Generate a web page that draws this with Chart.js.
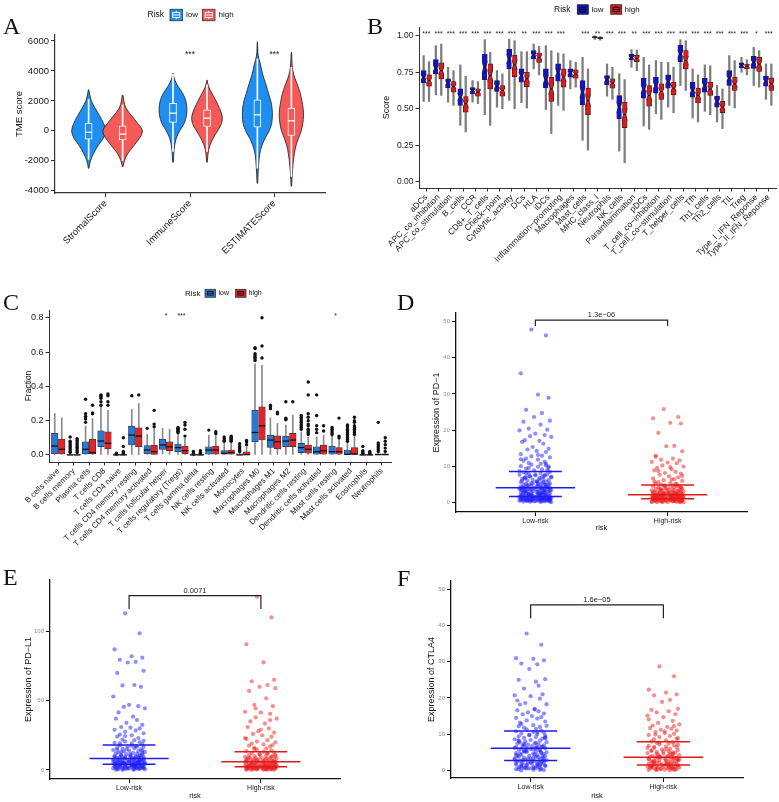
<!DOCTYPE html>
<html>
<head>
<meta charset="utf-8">
<title>TME score, immune function, immune cells and checkpoints by risk group</title>
<script src="https://cdn.jsdelivr.net/npm/chart.js@4/dist/chart.umd.min.js"></script>
<style>
  body { margin: 0; background: #fff; }
  #page { position: relative; width: 779px; height: 802px; overflow: hidden; background: #fff; }
  #page canvas { position: absolute; }
  .tag { position: absolute; font-family: "Liberation Serif", "Times New Roman", serif; font-size: 24px; line-height: 1; color: #111; }
</style>
</head>
<body>
<div id="page">
  <canvas id="cA" width="390" height="270" style="left:0;top:0"></canvas>
  <canvas id="cB" width="401" height="270" style="left:378px;top:0"></canvas>
  <canvas id="cC" width="395" height="280" style="left:0;top:270px"></canvas>
  <canvas id="cD" width="389" height="262" style="left:390px;top:270px"></canvas>
  <canvas id="cE" width="390" height="260" style="left:0;top:540px"></canvas>
  <canvas id="cF" width="389" height="260" style="left:390px;top:540px"></canvas>
  <div class="tag" style="left:3px;top:14px">A</div>
  <div class="tag" style="left:367px;top:14px">B</div>
  <div class="tag" style="left:3px;top:290px">C</div>
  <div class="tag" style="left:397px;top:290px">D</div>
  <div class="tag" style="left:3px;top:565px">E</div>
  <div class="tag" style="left:397px;top:566px">F</div>
</div>
<script>
// ---------- data ----------
var riskLevels = ['low', 'high'];
var riskGroups = ['Low-risk', 'High-risk'];

// A: TME scores (violin + box)
var aCats = ['StromalScore', 'ImmuneScore', 'ESTIMATEScore'];
var aTicks = [-4000, -2000, 0, 2000, 4000, 6000];
var aGrid = [-4000, -3500, -3000, -2500, -2000, -1500, -1000, -500, 0, 500, 1000, 1500, 2000, 2500, 3000, 3500, 4000, 4500, 5000, 5500, 6000];
var aDensLow = [
  [0, 0, 0, 0.3, 1.5, 5, 9, 15, 17.5, 15, 11, 6.5, 2.5, 0.8, 0, 0, 0, 0, 0, 0, 0],
  [0, 0, 0, 0, 0.4, 0.8, 1.5, 3, 6.5, 11.5, 13.5, 14, 13, 10, 4.5, 1, 0, 0, 0, 0, 0],
  [0, 0.3, 0.6, 1, 1.5, 2.3, 4.3, 7.5, 12, 14.5, 15, 14.8, 13.5, 11, 9, 6.5, 4.3, 3, 0.6, 0.4, 0]
];
var aDensHigh = [
  [0, 0, 0, 0, 1.5, 5, 11, 17, 21, 15, 9, 3, 1, 0.5, 0, 0, 0, 0, 0, 0, 0],
  [0, 0, 0, 0, 0.4, 1, 2.5, 6, 10.5, 15, 15.5, 12.5, 9, 5, 1, 0, 0, 0, 0, 0, 0],
  [0, 0.4, 0.8, 1.3, 2, 3, 4.4, 7, 10, 11.5, 12.2, 11.8, 10.5, 9, 6.5, 3.5, 1.3, 0.6, 0.4, 0, 0]
];
var aRangeLow = [[-2500, 2750], [-2100, 3850], [-3500, 5950]];
var aRangeHigh = [[-2400, 2400], [-2100, 3400], [-3700, 5250]];
// [lower whisker, q1, median, q3, upper whisker]
var aBoxLow = [[-1900, -555, -100, 511, 2100], [-1378, 555, 1178, 1844, 3777], [-2490, 244, 1067, 2067, 4800]];
var aBoxHigh = [[-2000, -600, -222, 333, 1733], [-1377, 289, 844, 1400, 3066], [-3044, -311, 667, 1511, 4244]];
var aSig = ['', '***', '***'];

// B: immune function scores
var bCats = ['aDCs', 'APC_co_inhibition', 'APC_co_stimulation', 'B_cells', 'CCR', 'CD8+_T_cells', 'Check\u2212point',
  'Cytolytic_activity', 'DCs', 'HLA', 'iDCs', 'Inflammation\u2212promoting', 'Macrophages', 'Mast_cells', 'MHC_class_I',
  'Neutrophils', 'NK_cells', 'Parainflammation', 'pDCs', 'T_cell_co\u2212inhibition', 'T_cell_co\u2212stimulation',
  'T_helper_cells', 'Tfh', 'Th1_cells', 'Th2_cells', 'TIL', 'Treg', 'Type_I_IFN_Reponse', 'Type_II_IFN_Reponse'];
var bTicks = [0, 0.25, 0.5, 0.75, 1];
var bLow = [
  [0.55, 0.677, 0.716, 0.761, 0.864], [0.595, 0.739, 0.777, 0.836, 0.932], [0.545, 0.643, 0.677, 0.705, 0.784],
  [0.386, 0.523, 0.58, 0.636, 0.80], [0.545, 0.602, 0.625, 0.645, 0.693], [0.459, 0.70, 0.784, 0.875, 0.973],
  [0.511, 0.618, 0.655, 0.693, 0.761], [0.557, 0.773, 0.841, 0.909, 0.977], [0.541, 0.682, 0.727, 0.773, 0.891],
  [0.773, 0.841, 0.868, 0.898, 0.943], [0.495, 0.643, 0.70, 0.773, 0.932], [0.523, 0.689, 0.75, 0.807, 0.882],
  [0.636, 0.716, 0.745, 0.773, 0.83], [0.284, 0.527, 0.614, 0.693, 0.852], [0.975, 0.985, 0.99, 0.995, 1.0],
  [0.586, 0.664, 0.698, 0.727, 0.807], [0.21, 0.43, 0.51, 0.59, 0.74], [0.784, 0.834, 0.852, 0.873, 0.905],
  [0.382, 0.573, 0.636, 0.709, 0.852], [0.466, 0.607, 0.659, 0.716, 0.83], [0.511, 0.641, 0.686, 0.732, 0.818],
  [0.659, 0.823, 0.875, 0.936, 0.973], [0.436, 0.58, 0.625, 0.682, 0.773], [0.482, 0.614, 0.659, 0.709, 0.80],
  [0.409, 0.511, 0.55, 0.586, 0.659], [0.523, 0.659, 0.709, 0.761, 0.864], [0.75, 0.782, 0.798, 0.814, 0.852],
  [0.659, 0.777, 0.818, 0.859, 0.92], [0.564, 0.655, 0.689, 0.723, 0.807]
];
var bHigh = [
  [0.55, 0.655, 0.693, 0.732, 0.823], [0.591, 0.705, 0.761, 0.814, 0.943], [0.523, 0.614, 0.652, 0.686, 0.761],
  [0.341, 0.477, 0.534, 0.584, 0.723], [0.534, 0.586, 0.614, 0.636, 0.686], [0.386, 0.636, 0.727, 0.807, 0.886],
  [0.50, 0.586, 0.625, 0.659, 0.739], [0.50, 0.72, 0.80, 0.868, 0.966], [0.505, 0.652, 0.705, 0.75, 0.891],
  [0.732, 0.818, 0.852, 0.882, 0.927], [0.33, 0.55, 0.636, 0.716, 0.898], [0.489, 0.648, 0.716, 0.773, 0.875],
  [0.648, 0.709, 0.739, 0.766, 0.818], [0.216, 0.459, 0.557, 0.641, 0.773], [0.97, 0.98, 0.985, 0.99, 0.995],
  [0.564, 0.641, 0.675, 0.705, 0.784], [0.13, 0.37, 0.46, 0.545, 0.70], [0.761, 0.823, 0.845, 0.868, 0.902],
  [0.359, 0.518, 0.591, 0.659, 0.80], [0.427, 0.564, 0.618, 0.67, 0.818], [0.473, 0.595, 0.641, 0.682, 0.784],
  [0.625, 0.773, 0.83, 0.898, 0.966], [0.409, 0.541, 0.591, 0.641, 0.732], [0.459, 0.591, 0.636, 0.682, 0.795],
  [0.364, 0.473, 0.511, 0.55, 0.636], [0.505, 0.625, 0.67, 0.716, 0.83], [0.732, 0.773, 0.791, 0.805, 0.836],
  [0.648, 0.755, 0.805, 0.852, 0.898], [0.523, 0.625, 0.67, 0.711, 0.807]
];
var bSig = ['***', '***', '***', '***', '***', '***', '***', '***', '**', '***', '***', '***', '', '***', '**',
  '***', '***', '**', '***', '***', '***', '***', '***', '***', '***', '***', '***', '*', '***'];

// C: immune cell fractions
var cCats = ['B cells naive', 'B cells memory', 'Plasma cells', 'T cells CD8', 'T cells CD4 naive',
  'T cells CD4 memory resting', 'T cells CD4 memory activated', 'T cells follicular helper', 'T cells regulatory (Tregs)',
  'T cells gamma delta', 'NK cells resting', 'NK cells activated', 'Monocytes', 'Macrophages M0', 'Macrophages M1',
  'Macrophages M2', 'Dendritic cells resting', 'Dendritic cells activated', 'Mast cells resting', 'Mast cells activated',
  'Eosinophils', 'Neutrophils'];
var cTicks = [0, 0.2, 0.4, 0.6, 0.8];
var cLow = [
  [0, 0.006, 0.052, 0.126, 0.242], [0, 0, 0, 0.004, 0.01], [0, 0.006, 0.033, 0.077, 0.168], [0, 0.048, 0.081, 0.141, 0.284],
  [0, 0, 0, 0.002, 0.004], [0, 0.058, 0.116, 0.168, 0.265], [0, 0.006, 0.029, 0.054, 0.12], [0.005, 0.033, 0.058, 0.093, 0.155],
  [0, 0.019, 0.043, 0.064, 0.126], [0, 0, 0, 0.002, 0.004], [0, 0.004, 0.029, 0.048, 0.116], [0, 0.004, 0.01, 0.025, 0.068],
  [0, 0, 0, 0.006, 0.014], [0, 0.077, 0.131, 0.261, 0.531], [0, 0.044, 0.087, 0.116, 0.216], [0, 0.048, 0.081, 0.11, 0.174],
  [0, 0.014, 0.043, 0.068, 0.135], [0, 0.004, 0.019, 0.048, 0.106], [0, 0.004, 0.019, 0.052, 0.11], [0, 0, 0.004, 0.029, 0.072],
  [0, 0, 0, 0.002, 0.004], [0, 0, 0.002, 0.006, 0.012]
];
var cHigh = [
  [0, 0.006, 0.033, 0.093, 0.216], [0, 0, 0, 0.004, 0.01], [0, 0.006, 0.014, 0.093, 0.212], [0, 0.035, 0.068, 0.135, 0.26],
  [0, 0, 0, 0.002, 0.004], [0, 0.048, 0.11, 0.158, 0.30], [0, 0, 0.019, 0.058, 0.155], [0, 0.025, 0.048, 0.077, 0.15],
  [0, 0.006, 0.025, 0.052, 0.097], [0, 0, 0, 0.002, 0.004], [0, 0.004, 0.029, 0.052, 0.116], [0, 0.004, 0.014, 0.029, 0.077],
  [0, 0, 0.002, 0.019, 0.048], [0, 0.087, 0.17, 0.28, 0.522], [0, 0.035, 0.077, 0.112, 0.184], [0, 0.048, 0.087, 0.126, 0.232],
  [0, 0.01, 0.033, 0.058, 0.106], [0, 0.004, 0.025, 0.058, 0.116], [0, 0.004, 0.019, 0.043, 0.091], [0, 0, 0.006, 0.043, 0.11],
  [0, 0, 0, 0.002, 0.004], [0, 0, 0.002, 0.006, 0.012]
];
var cLowOut = [
  [], [0.015, 0.02, 0.03, 0.04, 0.05, 0.06, 0.07, 0.08, 0.105], [0.19, 0.21, 0.215, 0.225, 0.24, 0.325],
  [0.29, 0.31, 0.33, 0.34, 0.345, 0.35], [0.006, 0.01], [0.345], [0.155], [], [0.13, 0.135, 0.14, 0.145, 0.15, 0.155, 0.16],
  [0.006, 0.01, 0.02], [0.145], [0.08, 0.085, 0.095, 0.105], [0.02, 0.025, 0.03, 0.04, 0.05, 0.065],
  [0.55, 0.56, 0.57, 0.58, 0.59, 0.62, 0.625], [0.27, 0.28, 0.29], [0.205, 0.21, 0.215, 0.31],
  [0.15, 0.16, 0.17, 0.18, 0.19, 0.2, 0.21, 0.22, 0.23], [0.13, 0.15, 0.17, 0.23, 0.35], [0.12, 0.13, 0.14, 0.15, 0.16],
  [0.08, 0.09, 0.1, 0.11, 0.12, 0.13, 0.14, 0.15, 0.165, 0.175], [0.008, 0.012, 0.018, 0.025, 0.05],
  [0.02, 0.03, 0.04, 0.05, 0.06, 0.07, 0.19]
];
var cHighOut = [
  [], [0.015, 0.025, 0.035, 0.045, 0.055, 0.065, 0.075, 0.085, 0.095], [0.24, 0.245, 0.29], [0.29, 0.31, 0.345, 0.355],
  [0.01, 0.02, 0.05, 0.1], [0.35], [0.165, 0.18, 0.26], [], [0.11, 0.15, 0.175, 0.19], [0.008, 0.015, 0.025],
  [0.125, 0.135], [0.08, 0.085, 0.09, 0.095, 0.1, 0.105, 0.11], [0.06, 0.075, 0.085], [0.565, 0.635, 0.8], [0.24, 0.25],
  [0.31], [0.12, 0.13, 0.14, 0.15, 0.17, 0.18, 0.2, 0.22, 0.24, 0.35, 0.425], [0.14, 0.17], [0.1, 0.11, 0.215],
  [0.12, 0.13, 0.14, 0.15, 0.16, 0.17, 0.19, 0.2, 0.22], [0.008, 0.012, 0.02], [0.02, 0.04, 0.06, 0.08, 0.1]
];
var cSig = ['', '', '', '', '', '', '', '*', '***', '', '', '', '', '', '', '', '', '', '*', '', '', ''];

// D: PD-1
var dTicks = [0, 10, 20, 30, 40, 50];
var dLow = [47.8, 46.2, 35.7, 29.8, 28.9, 25.6, 24.7, 23.6, 22.6, 22.3, 21.5, 20.4, 20.1, 19.9, 19.0, 18.6, 18.3, 18.1,
  17.2, 17.0, 16.7, 16.2, 15.3, 14.8, 14.6, 14.2, 13.9, 13.3, 12.9, 12.7, 12.4, 12.1, 11.8, 11.5, 11.2, 10.9, 10.6, 10.4,
  10.2, 10.0, 9.8, 9.6, 9.3, 9.1, 8.8, 8.4, 8.3, 8.1, 7.9, 7.8, 7.6, 7.4, 7.3, 7.1, 7.0, 6.8, 6.7, 6.5, 6.4, 6.2, 6.1,
  6.0, 5.8, 5.7, 5.6, 5.4, 5.3, 5.2, 5.1, 5.0, 4.9, 4.8, 4.7, 4.6, 4.5, 4.4, 4.3, 4.3, 4.2, 4.1, 4.1, 4.0, 4.0, 3.9, 3.9,
  3.8, 3.7, 3.7, 3.6, 3.5, 3.5, 3.4, 3.3, 3.2, 3.2, 3.1, 3.0, 2.9, 2.9, 2.8, 2.7, 2.7, 2.6, 2.5, 2.5, 2.4, 2.3, 2.3, 2.2,
  2.1, 2.1, 2.0, 2.0, 1.9, 1.9, 1.8, 1.8, 1.7, 1.7, 1.6, 1.6, 1.5, 1.5, 1.4, 1.4, 1.4, 1.3, 1.3, 1.2, 1.2, 1.2, 1.1, 1.1,
  1.0, 1.0, 1.0, 0.9, 0.9, 0.9, 0.8, 0.8, 0.8, 0.7, 0.7, 0.7, 0.6, 0.6, 0.6, 0.5, 0.5, 0.5, 0.4, 0.4, 0.4, 0.3, 0.3, 0.2,
  0.2, 0.1, 9.5, 8.9, 8.6, 7.7, 7.5, 7.2, 6.9, 6.6, 6.3, 5.9, 5.5, 5.2, 4.95, 4.65, 4.4, 4.15, 3.95, 3.75, 3.55, 3.35,
  3.15, 2.95, 2.75, 2.55, 2.35, 2.15, 1.95, 1.75, 1.55, 1.45, 1.35, 1.25, 1.15, 1.05, 0.95, 0.85, 0.75, 0.65, 0.55, 0.45,
  0.35, 0.25, 0.15, 0.05, 3.05, 2.45, 1.85, 1.25, 0.95, 0.65, 0.35, 5.75, 4.85, 3.65, 2.65, 1.65, 0.75, 6.95, 5.35, 4.05,
  3.25, 2.05, 1.05, 0.45, 10.7, 11.9, 13.1, 9.9, 8.0, 7.0];
var dHigh = [25.8, 23.6, 23.2, 22.0, 21.8, 19.2, 15.6, 15.5, 14.1, 12.6, 12.1, 11.8, 11.6, 11.2, 11.0, 10.8, 10.2, 9.9,
  9.5, 9.1, 8.8, 8.4, 8.1, 7.9, 7.6, 7.2, 6.9, 6.6, 6.4, 6.1, 5.9, 5.6, 5.4, 5.2, 5.0, 4.9, 4.7, 4.6, 4.5, 4.4, 4.3, 4.2,
  4.1, 4.0, 3.9, 3.8, 3.7, 3.6, 3.5, 3.4, 3.3, 3.3, 3.2, 3.1, 3.0, 2.9, 2.9, 2.8, 2.7, 2.7, 2.6, 2.5, 2.5, 2.4, 2.4, 2.3,
  2.3, 2.2, 2.2, 2.1, 2.1, 2.0, 2.0, 1.9, 1.9, 1.9, 1.8, 1.8, 1.7, 1.7, 1.7, 1.6, 1.6, 1.6, 1.5, 1.5, 1.5, 1.4, 1.4, 1.4,
  1.3, 1.3, 1.3, 1.2, 1.2, 1.2, 1.1, 1.1, 1.1, 1.0, 1.0, 1.0, 0.9, 0.9, 0.9, 0.8, 0.8, 0.8, 0.7, 0.7, 0.7, 0.6, 0.6, 0.6,
  0.5, 0.5, 0.5, 0.4, 0.4, 0.4, 0.3, 0.3, 0.3, 0.2, 0.2, 0.1, 0.1, 0.1, 0.0, 0.0, 6.3, 5.7, 5.1, 4.6, 4.1, 3.7, 3.4, 3.1,
  2.8, 2.6, 2.4, 2.2, 2.0, 1.85, 1.75, 1.65, 1.55, 1.45, 1.35, 1.25, 1.15, 1.05, 0.95, 0.85, 0.75, 0.65, 0.55, 0.45, 0.35,
  0.25, 0.15, 0.05, 2.65, 2.25, 1.95, 1.6, 1.3, 1.0, 0.7, 0.4, 3.9, 3.2, 2.7, 2.3, 1.8, 1.2, 0.6, 0.2, 7.3, 8.6, 9.7,
  12.9, 4.4, 3.5, 2.95, 2.45, 1.7, 1.05, 0.5, 0.1];
var dStatLow = [1.6, 4.0, 8.5];   // q1, median, q3
var dStatHigh = [1.0, 2.1, 4.8];
var dBracket = [48.8, 50.4];
var dP = '1.3e\u221206';

// E: PD-L1
var eTicks = [0, 50, 100];
var eLow = [113, 98.6, 87, 82, 81, 79.5, 78, 77.5, 71.5, 70, 61.3, 61, 60, 53, 47, 46, 45.5, 44.5, 41.5, 38.5, 37, 36,
  34, 32.5, 31, 30.5, 30, 29, 28.5, 27.5, 26.5, 25.5, 25, 24, 23, 22, 21.5, 20.5, 20, 19.5, 19, 18.5, 17.8, 17.3, 16.9,
  16.5, 16.0, 15.6, 15.2, 14.8, 14.4, 14.0, 13.6, 13.3, 13.0, 12.6, 12.3, 12.0, 11.7, 11.4, 11.1, 10.8, 10.5, 10.2, 10.0,
  9.8, 9.6, 9.4, 9.2, 9.0, 8.8, 8.6, 8.4, 8.3, 8.1, 7.9, 7.7, 7.5, 7.3, 7.1, 6.9, 6.8, 6.6, 6.4, 6.3, 6.1, 6.0, 5.8, 5.7,
  5.5, 5.4, 5.3, 5.1, 5.0, 4.9, 4.8, 4.7, 4.6, 4.5, 4.4, 4.3, 4.2, 4.1, 4.0, 3.8, 3.7, 3.5, 3.4, 3.2, 3.1, 3.0, 2.8, 2.7,
  2.6, 2.4, 2.3, 2.2, 2.0, 1.9, 1.8, 1.6, 1.5, 1.4, 1.2, 1.1, 1.0, 0.8, 0.7, 0.6, 0.5, 0.3, 0.2, 16.8, 15.0, 13.8, 12.9,
  11.5, 10.6, 9.7, 9.1, 8.5, 7.8, 7.2, 6.7, 6.2, 5.6, 5.2, 4.7, 4.3, 3.9, 3.6, 3.3, 2.9, 2.5, 2.1, 1.7, 1.3, 0.9, 0.5,
  0.1, 8.9, 7.4, 6.5, 5.9, 5.0, 4.4, 3.8, 3.0, 2.2, 1.5, 0.8, 12.1, 10.3, 9.3, 7.0, 4.6, 2.6, 24.5, 21, 19.2, 17.5, 14.6,
  6.0, 5.3, 3.4, 1.9, 1.0];
var eHigh = [125, 110, 90.6, 77.6, 65, 64, 61.3, 60, 59, 57, 51.7, 47, 46, 42, 41.5, 40.5, 38, 37, 35, 33.5, 31, 30, 28,
  27, 26, 25, 24, 22.5, 21.5, 20.5, 20, 19, 18.5, 17.5, 17, 16, 15.5, 14.8, 14.2, 13.6, 13.0, 12.6, 12.2, 11.8, 11.4,
  11.0, 10.7, 10.4, 10.1, 9.8, 9.5, 9.2, 8.9, 8.7, 8.4, 8.2, 8.0, 7.8, 7.6, 7.4, 7.2, 7.0, 6.8, 6.6, 6.4, 6.2, 6.1, 5.9,
  5.7, 5.5, 5.3, 5.1, 4.9, 4.8, 4.6, 4.4, 4.3, 4.1, 4.0, 3.8, 3.7, 3.6, 3.4, 3.3, 3.2, 3.1, 3.0, 2.9, 2.8, 2.7, 2.6, 2.5,
  2.4, 2.3, 2.2, 2.1, 2.0, 1.9, 1.8, 1.7, 1.6, 1.5, 1.4, 1.3, 1.2, 1.1, 1.0, 0.9, 0.8, 0.7, 0.6, 0.5, 0.4, 0.3, 0.2, 0.1,
  0.0, 12.4, 11.2, 10.0, 9.0, 8.1, 7.3, 6.5, 5.8, 5.2, 4.7, 4.2, 3.7, 3.3, 2.9, 2.5, 2.2, 1.9, 1.6, 1.3, 1.0, 0.7, 0.4,
  0.2, 6.9, 5.5, 4.5, 3.5, 2.7, 2.0, 1.4, 0.9, 0.5, 9.7, 7.9, 6.3, 4.9, 3.9, 3.0, 2.3, 1.7, 1.1, 0.6, 15.2, 18, 23, 29,
  36, 44.5];
var eStatLow = [4.1, 8.2, 18.0];
var eStatHigh = [2.4, 6.0, 13.2];
var eBracket = [116, 125.7];
var eP = '0.0071';

// F: CTLA4
var fTicks = [0, 10, 20, 30, 40, 50];
var fLow = [37.8, 34.7, 31.0, 30.8, 30.4, 29.5, 29.3, 28.0, 25.2, 25.0, 24.5, 22.6, 21.0, 20.7, 20.5, 19.8, 18.6, 18.3,
  18.2, 17.0, 16.6, 16.3, 16.0, 15.7, 15.5, 15.0, 14.7, 14.5, 14.3, 13.8, 13.5, 12.8, 12.5, 12.2, 12.0, 11.8, 11.5, 11.3,
  11.0, 10.8, 10.6, 10.4, 10.2, 10.0, 9.8, 9.6, 9.4, 9.2, 9.0, 8.8, 8.6, 8.4, 8.2, 8.0, 7.8, 7.7, 7.5, 7.4, 7.2, 7.1, 6.9,
  6.8, 6.7, 6.5, 6.4, 6.3, 6.2, 6.1, 6.0, 5.8, 5.7, 5.5, 5.4, 5.2, 5.1, 4.9, 4.8, 4.6, 4.5, 4.3, 4.2, 4.1, 3.9, 3.8, 3.7,
  3.5, 3.4, 3.3, 3.2, 3.0, 2.9, 2.8, 2.7, 2.6, 2.5, 2.4, 2.2, 2.1, 2.0, 1.9, 1.8, 1.6, 1.5, 1.4, 1.3, 1.2, 1.0, 0.9, 0.8,
  0.7, 0.6, 0.5, 0.4, 0.3, 0.2, 0.1, 0.0, 10.5, 9.7, 8.9, 8.1, 7.6, 7.0, 6.6, 6.2, 5.9, 5.6, 5.3, 5.0, 4.7, 4.4, 4.0, 3.6,
  3.3, 3.1, 2.85, 2.55, 2.3, 2.05, 1.85, 1.55, 1.25, 0.95, 0.65, 0.35, 0.15, 7.3, 6.05, 5.45, 4.85, 4.25, 3.45, 2.65,
  1.75, 1.1, 0.55, 9.1, 8.3, 6.45, 5.15, 3.95, 2.95, 2.15, 1.45, 0.75, 12.3, 13.2, 16.8, 19.3, 23.4];
var fHigh = [28.7, 26.0, 22.3, 21.5, 21.0, 20.7, 19.5, 18.9, 17.0, 16.7, 16.3, 16.0, 15.5, 15.1, 14.7, 13.7, 13.1, 12.7,
  12.4, 12.0, 11.7, 11.5, 11.2, 11.0, 10.6, 10.3, 10.1, 9.8, 9.5, 9.2, 8.9, 8.6, 8.3, 8.0, 7.8, 7.6, 7.4, 7.2, 7.0, 6.8,
  6.6, 6.4, 6.2, 6.0, 5.8, 5.6, 5.4, 5.3, 5.1, 4.9, 4.8, 4.6, 4.5, 4.3, 4.2, 4.0, 3.9, 3.8, 3.7, 3.6, 3.5, 3.4, 3.3, 3.2,
  3.1, 3.0, 2.9, 2.8, 2.7, 2.6, 2.5, 2.4, 2.3, 2.2, 2.1, 2.0, 1.9, 1.8, 1.7, 1.6, 1.5, 1.4, 1.4, 1.3, 1.2, 1.2, 1.1, 1.0,
  1.0, 0.9, 0.8, 0.8, 0.7, 0.6, 0.6, 0.5, 0.4, 0.4, 0.3, 0.2, 0.2, 0.1, 0.0, 7.7, 7.1, 6.5, 5.9, 5.5, 5.0, 4.6, 4.1, 3.75,
  3.45, 3.15, 2.85, 2.55, 2.25, 1.95, 1.65, 1.35, 1.05, 0.75, 0.45, 0.15, 6.2, 5.2, 4.4, 3.55, 2.95, 2.35, 1.75, 1.25,
  0.85, 0.35, 8.7, 9.9, 10.8, 12.2, 14.1, 4.7, 3.85, 3.05, 2.15, 1.55, 0.95, 0.55, 0.05];
var fStatLow = [2.7, 6.1, 10.9];
var fStatHigh = [1.5, 3.6, 7.9];
var fBracket = [42.0, 45.7];
var fP = '1.6e\u221205';

// ---------- style ----------
var FONT = '"Liberation Sans", Arial, Helvetica, sans-serif';
Chart.defaults.font.family = FONT;
Chart.defaults.animation = false;
Chart.defaults.responsive = false;
Chart.defaults.plugins.legend.display = false;
Chart.defaults.plugins.tooltip.enabled = false;

var jitter = [-0.03, 0.08, -0.11, 0.02, 0.10, -0.07, 0.05, -0.01, 0.11, -0.09, 0.04, -0.05, 0.09, -0.12, 0.00, 0.07,
  -0.04, 0.12, -0.08, 0.03, -0.10, 0.06, -0.02, 0.10, -0.06, 0.01, 0.08, -0.11, 0.05, -0.03, 0.11, -0.07, 0.02, -0.09,
  0.07, -0.05, 0.04];

function yAxis(o) {
  return {
    type: 'linear', position: 'left', min: o.min, max: o.max, stacked: false,
    afterFit: function (s) { s.width = o.width; },
    afterBuildTicks: function (s) { s.ticks = o.ticks.map(function (v) { return { value: v }; }); },
    ticks: { font: { size: o.fs }, color: o.color || '#1a1a1a', padding: 2,
      callback: function (v) { return o.fmt ? o.fmt(v) : String(v); } },
    grid: { drawOnChartArea: false, drawTicks: true, tickLength: o.tl || 4, tickColor: o.line || '#333' },
    border: { display: true, color: o.line || '#333', width: o.lw || 1 },
    title: { display: true, text: o.title, font: { size: o.tfs }, color: '#111', padding: 0 }
  };
}

function xAxis(o) {
  return {
    type: 'linear', position: 'bottom', min: -0.6, max: o.labels.length - 0.4, offset: false,
    afterFit: function (s) { s.height = o.height; },
    afterBuildTicks: function (s) { s.ticks = o.labels.map(function (_, i) { return { value: i }; }); },
    ticks: { autoSkip: false, minRotation: o.rot || 0, maxRotation: o.rot || 0, font: { size: o.fs },
      color: o.color || '#1a1a1a', padding: o.pad == null ? 1 : o.pad,
      callback: function (v) { return o.labels[v]; } },
    grid: { offset: false, drawOnChartArea: false, drawTicks: true, tickLength: o.tl || 4, tickColor: o.line || '#333' },
    border: { display: true, color: o.line || '#333', width: o.lw || 1 },
    title: { display: !!o.title, text: o.title || '', font: { size: o.tfs || 8 }, color: '#111', padding: 0 }
  };
}

// whisker bar + box bar sharing one dodge slot (stack)
function boxSets(stats, stack, st) {
  function span(a, b) { return stats.map(function (s, i) { return { x: i, y: [s[a], s[b]] }; }); }
  return [
    { type: 'bar', stack: stack, data: span(0, 4), backgroundColor: st.whisker, borderWidth: 0,
      barThickness: st.slot, maxBarThickness: st.ww, order: 3 },
    { type: 'bar', stack: stack, role: 'box', stats: stats, data: span(1, 3), backgroundColor: st.fill,
      borderColor: st.edge, borderWidth: st.ew, borderSkipped: false, barThickness: st.slot, maxBarThickness: st.bw, order: 2 }
  ];
}

function boxMetas(chart) {
  var out = {};
  chart.data.datasets.forEach(function (ds, k) {
    if (ds.role === 'box') out[ds.stack] = { ds: ds, els: chart.getDatasetMeta(k).data };
  });
  return out;
}

function medianPlugin(g) {
  return { id: 'medians', afterDatasetsDraw: function (chart) {
    var ctx = chart.ctx, ys = chart.scales.y, metas = boxMetas(chart);
    ctx.save();
    Object.keys(metas).forEach(function (key) {
      var m = metas[key];
      m.els.forEach(function (el, i) {
        var s = m.ds.stats[i], y = ys.getPixelForValue(s[2]);
        var L = el.x - el.width / 2, R = el.x + el.width / 2, ind = 0;
        if (g.notch) {
          var h = (ys.getPixelForValue(s[1]) - ys.getPixelForValue(s[3])) * g.notch;
          ind = el.width / 4;
          ctx.fillStyle = '#fff';
          ctx.beginPath(); ctx.moveTo(L - 0.6, y - h); ctx.lineTo(L + ind, y); ctx.lineTo(L - 0.6, y + h); ctx.closePath(); ctx.fill();
          ctx.beginPath(); ctx.moveTo(R + 0.6, y - h); ctx.lineTo(R - ind, y); ctx.lineTo(R + 0.6, y + h); ctx.closePath(); ctx.fill();
          ctx.strokeStyle = g.edge; ctx.lineWidth = 0.7;
          ctx.beginPath(); ctx.moveTo(L, y - h); ctx.lineTo(L + ind, y); ctx.lineTo(L, y + h);
          ctx.moveTo(R, y - h); ctx.lineTo(R - ind, y); ctx.lineTo(R, y + h); ctx.stroke();
        }
        ctx.strokeStyle = g.color; ctx.lineWidth = g.lw;
        ctx.beginPath(); ctx.moveTo(L + ind, y); ctx.lineTo(R - ind, y); ctx.stroke();
      });
    });
    ctx.restore();
  } };
}

function densAt(d, v) {
  for (var k = 0; k < aGrid.length - 1; k++) {
    if (v >= aGrid[k] && v <= aGrid[k + 1]) {
      var t = (v - aGrid[k]) / (aGrid[k + 1] - aGrid[k]);
      return d[k] + t * (d[k + 1] - d[k]);
    }
  }
  return 0;
}

function violinPlugin(groups) {
  return { id: 'violins', beforeDatasetsDraw: function (chart) {
    var ctx = chart.ctx, xs = chart.scales.x, ys = chart.scales.y, metas = boxMetas(chart);
    var unit = xs.getPixelForValue(1) - xs.getPixelForValue(0);
    ctx.save();
    groups.forEach(function (g) {
      var m = metas[g.stack];
      g.dens.forEach(function (d, i) {
        var lo = g.range[i][0], hi = g.range[i][1], cx = m.els[i].x;
        var prof = [[lo, densAt(d, lo)]];
        aGrid.forEach(function (v, k) { if (v > lo && v < hi) prof.push([v, d[k]]); });
        prof.push([hi, densAt(d, hi)]);
        var pts = [];
        prof.forEach(function (p) { pts.push([cx + p[1] / 21 * 0.25 * unit, ys.getPixelForValue(p[0])]); });
        prof.slice().reverse().forEach(function (p) { pts.push([cx - p[1] / 21 * 0.25 * unit, ys.getPixelForValue(p[0])]); });
        ctx.beginPath();
        ctx.moveTo(pts[0][0], pts[0][1]);
        for (var k = 1; k < pts.length - 1; k++) {
          ctx.quadraticCurveTo(pts[k][0], pts[k][1], (pts[k][0] + pts[k + 1][0]) / 2, (pts[k][1] + pts[k + 1][1]) / 2);
        }
        ctx.lineTo(pts[pts.length - 1][0], pts[pts.length - 1][1]);
        ctx.closePath();
        ctx.fillStyle = g.color; ctx.fill();
        ctx.strokeStyle = '#1a1a1a'; ctx.lineWidth = 0.8; ctx.stroke();
      });
    });
    ctx.restore();
  } };
}

function notePlugin(notes, fs) {
  return { id: 'notes', afterDatasetsDraw: function (chart) {
    var ctx = chart.ctx, xs = chart.scales.x, ys = chart.scales.y;
    ctx.save();
    ctx.font = fs + 'px ' + FONT; ctx.textAlign = 'center'; ctx.textBaseline = 'middle'; ctx.fillStyle = '#222';
    notes.forEach(function (n) {
      if (n.text) ctx.fillText(n.text, xs.getPixelForValue(n.x), ys.getPixelForValue(n.y) + (n.dy || 0));
    });
    ctx.restore();
  } };
}

function keyPlugin(k) {
  return { id: 'key', afterDraw: function (chart) {
    var ctx = chart.ctx;
    ctx.save();
    ctx.textBaseline = 'middle'; ctx.textAlign = 'left'; ctx.fillStyle = '#111';
    ctx.font = k.tfs + 'px ' + FONT;
    ctx.fillText('Risk', k.tx, k.y);
    k.items.forEach(function (it, i) {
      var x = it.bx, top = k.y - k.bh / 2;
      ctx.fillStyle = k.colors[i]; ctx.fillRect(x, top, k.bw, k.bh);
      ctx.strokeStyle = k.edge; ctx.lineWidth = 0.8; ctx.strokeRect(x, top, k.bw, k.bh);
      ctx.strokeStyle = k.glyph; ctx.lineWidth = 0.9;
      var cx = x + k.bw / 2;
      ctx.beginPath();
      ctx.moveTo(cx, top + 1.5); ctx.lineTo(cx, top + k.bh * 0.28);
      ctx.moveTo(cx, top + k.bh * 0.72); ctx.lineTo(cx, top + k.bh - 1.5);
      ctx.moveTo(x + k.bw * 0.22, k.y); ctx.lineTo(x + k.bw * 0.78, k.y);
      ctx.stroke();
      ctx.strokeRect(x + k.bw * 0.22, top + k.bh * 0.28, k.bw * 0.56, k.bh * 0.44);
      ctx.fillStyle = '#111'; ctx.font = k.lfs + 'px ' + FONT;
      ctx.fillText(riskLevels[i], it.lx, k.y);
    });
    ctx.restore();
  } };
}

// ---------- A ----------
var aCol = ['#1f8ef1', '#f65a58'];
new Chart(document.getElementById('cA'), {
  type: 'bar',
  data: { datasets: [].concat(
    boxSets(aBoxLow, 'low', { fill: aCol[0], edge: '#fff', ew: 1, whisker: '#fff', ww: 1, slot: 34, bw: 7 }),
    boxSets(aBoxHigh, 'high', { fill: aCol[1], edge: '#fff', ew: 1, whisker: '#fff', ww: 1, slot: 34, bw: 7 })
  ) },
  options: {
    layout: { padding: { left: 14, top: 35, right: 65, bottom: 0 } },
    scales: {
      x: xAxis({ labels: aCats, height: 77, fs: 9.5, rot: 45, line: '#333', lw: 1.2 }),
      y: yAxis({ min: -4153, max: 6400, ticks: aTicks, width: 41, fs: 9.5, title: 'TME score', tfs: 9.5, line: '#333', lw: 1.2 })
    }
  },
  plugins: [
    violinPlugin([
      { stack: 'low', dens: aDensLow, range: aRangeLow, color: aCol[0] },
      { stack: 'high', dens: aDensHigh, range: aRangeHigh, color: aCol[1] }
    ]),
    medianPlugin({ color: '#fff', lw: 1.3 }),
    notePlugin(aSig.map(function (t, i) { return { x: i, y: 5111, text: t }; }), 8.5),
    keyPlugin({ y: 15, tx: 147.5, tfs: 8.5, lfs: 8, bw: 12.5, bh: 11.5, edge: '#333', glyph: '#fff', colors: aCol,
      items: [{ bx: 170, lx: 186 }, { bx: 202.5, lx: 218.5 }] })
  ]
});

// ---------- B ----------
var bCol = ['#1212cc', '#e0191b'];
new Chart(document.getElementById('cB'), {
  type: 'bar',
  data: { datasets: [].concat(
    boxSets(bLow, 'low', { fill: bCol[0], edge: '#222', ew: 0.7, whisker: '#7d7d7d', ww: 1.6, slot: 5.4, bw: 5 }),
    boxSets(bHigh, 'high', { fill: bCol[1], edge: '#222', ew: 0.7, whisker: '#7d7d7d', ww: 1.6, slot: 5.4, bw: 5 })
  ) },
  options: {
    layout: { padding: { left: 3.6, top: 27, right: 3, bottom: 0 } },
    scales: {
      x: xAxis({ labels: bCats, height: 82, fs: 8.5, rot: 45, line: '#333', tl: 3.5 }),
      y: yAxis({ min: -0.043, max: 1.06, ticks: bTicks, width: 37.4, fs: 8.5, title: 'Score', tfs: 9,
        fmt: function (v) { return v.toFixed(2); }, line: '#333', tl: 3.5 })
    }
  },
  plugins: [
    medianPlugin({ color: '#111', lw: 1, notch: 0.25, edge: '#222' }),
    notePlugin(bSig.map(function (t, i) { return { x: i, y: 1.02, text: t, dy: 1.5 }; }), 7),
    keyPlugin({ y: 9.5, tx: 176, tfs: 8.5, lfs: 8, bw: 11, bh: 9.5, edge: '#222', glyph: '#111', colors: bCol,
      items: [{ bx: 199.3, lx: 213.5 }, { bx: 232.7, lx: 246.5 }] })
  ]
});

// ---------- C ----------
var cCol = ['#2a78d6', '#e52228'];
function outlierSet(outs, off) {
  var pts = [];
  outs.forEach(function (list, i) { list.forEach(function (v) { pts.push({ x: i + off, y: v }); }); });
  return { type: 'scatter', data: pts, backgroundColor: '#111', borderWidth: 0, pointRadius: 1.7, order: 1 };
}
new Chart(document.getElementById('cC'), {
  type: 'bar',
  data: { datasets: [].concat(
    boxSets(cLow, 'low', { fill: cCol[0], edge: '#333', ew: 0.7, whisker: '#8a8a8a', ww: 1, slot: 7, bw: 6.6 }),
    boxSets(cHigh, 'high', { fill: cCol[1], edge: '#333', ew: 0.7, whisker: '#8a8a8a', ww: 1, slot: 7, bw: 6.6 }),
    [outlierSet(cLowOut, -0.226), outlierSet(cHighOut, 0.226)]
  ) },
  options: {
    layout: { padding: { left: 23.7, top: 40, right: 3, bottom: 0 } },
    scales: {
      x: xAxis({ labels: cCats, height: 88, fs: 8, rot: 45, line: '#333', tl: 3.5 }),
      y: yAxis({ min: -0.041, max: 0.845, ticks: cTicks, width: 25.3, fs: 9, title: 'Fraction', tfs: 8.5,
        fmt: function (v) { return v.toFixed(1); }, line: '#333', tl: 3.5 })
    }
  },
  plugins: [
    medianPlugin({ color: '#111', lw: 1.3 }),
    notePlugin(cSig.map(function (t, i) { return { x: i, y: 0.82, text: t, dy: 1.5 }; }), 7),
    keyPlugin({ y: 23.3, tx: 185, tfs: 8, lfs: 7, bw: 10.5, bh: 8, edge: '#333', glyph: '#111', colors: cCol,
      items: [{ bx: 205, lx: 218.5 }, { bx: 235.5, lx: 248.5 }] })
  ]
});

// ---------- D, E, F ----------
var riskDot = ['rgba(30,30,255,0.5)', 'rgba(240,30,30,0.5)'];
var riskLine = ['#1c1cf2', '#dd1a1a'];
function riskChart(id, o) {
  var sets = [];
  [o.low, o.high].forEach(function (vals, i) {
    sets.push({ type: 'scatter', order: 3, backgroundColor: riskDot[i], borderWidth: 0, pointRadius: 2.1,
      data: vals.map(function (v, k) { return { x: i + jitter[k % jitter.length], y: v }; }) });
  });
  [o.statLow, o.statHigh].forEach(function (st, i) {
    st.forEach(function (v, k) {
      var hw = k === 1 ? 0.3 : 0.2;
      sets.push({ type: 'line', order: 1, borderColor: riskLine[i], borderWidth: 1.5, pointRadius: 0,
        data: [{ x: i - hw, y: v }, { x: i + hw, y: v }] });
    });
  });
  sets.push({ type: 'line', order: 0, borderColor: '#222', borderWidth: 1.2, pointRadius: 0,
    data: [{ x: 0, y: o.bracket[0] }, { x: 0, y: o.bracket[1] }, { x: 1, y: o.bracket[1] }, { x: 1, y: o.bracket[0] }] });
  return new Chart(document.getElementById(id), {
    type: 'scatter',
    data: { datasets: sets },
    options: {
      layout: { padding: o.pad },
      scales: {
        x: xAxis({ labels: riskGroups, height: o.xh, fs: 7, title: 'risk', tfs: 7.5, line: '#111', lw: 1.3 }),
        y: yAxis({ min: o.min, max: o.max, ticks: o.ticks, width: o.yw, fs: 6, color: '#8c8c8c', title: o.title,
          tfs: 9, line: '#111', lw: 1.3 })
      }
    },
    plugins: [notePlugin([{ x: 0.5, y: o.bracket[1], text: o.p, dy: -5 }], 7.5)]
  });
}

riskChart('cD', { low: dLow, high: dHigh, statLow: dStatLow, statHigh: dStatHigh, bracket: dBracket, p: dP,
  ticks: dTicks, min: -2.7, max: 52.4, title: 'Expression of PD\u22121',
  pad: { left: 41.6, top: 43, right: 32, bottom: 0 }, yw: 24.4, xh: 20 });
riskChart('cE', { low: eLow, high: eHigh, statLow: eStatLow, statHigh: eStatHigh, bracket: eBracket, p: eP,
  ticks: eTicks, min: -6.5, max: 137, title: 'Expression of PD\u2212L1',
  pad: { left: 23.1, top: 40, right: 50, bottom: 0 }, yw: 26.9, xh: 21 });
riskChart('cF', { low: fLow, high: fHigh, statLow: fStatLow, statHigh: fStatHigh, bracket: fBracket, p: fP,
  ticks: fTicks, min: -2.1, max: 52.3, title: 'Expression of CTLA4',
  pad: { left: 36.6, top: 41, right: 36, bottom: 0 }, yw: 24.4, xh: 22 });
</script>
</body>
</html>
